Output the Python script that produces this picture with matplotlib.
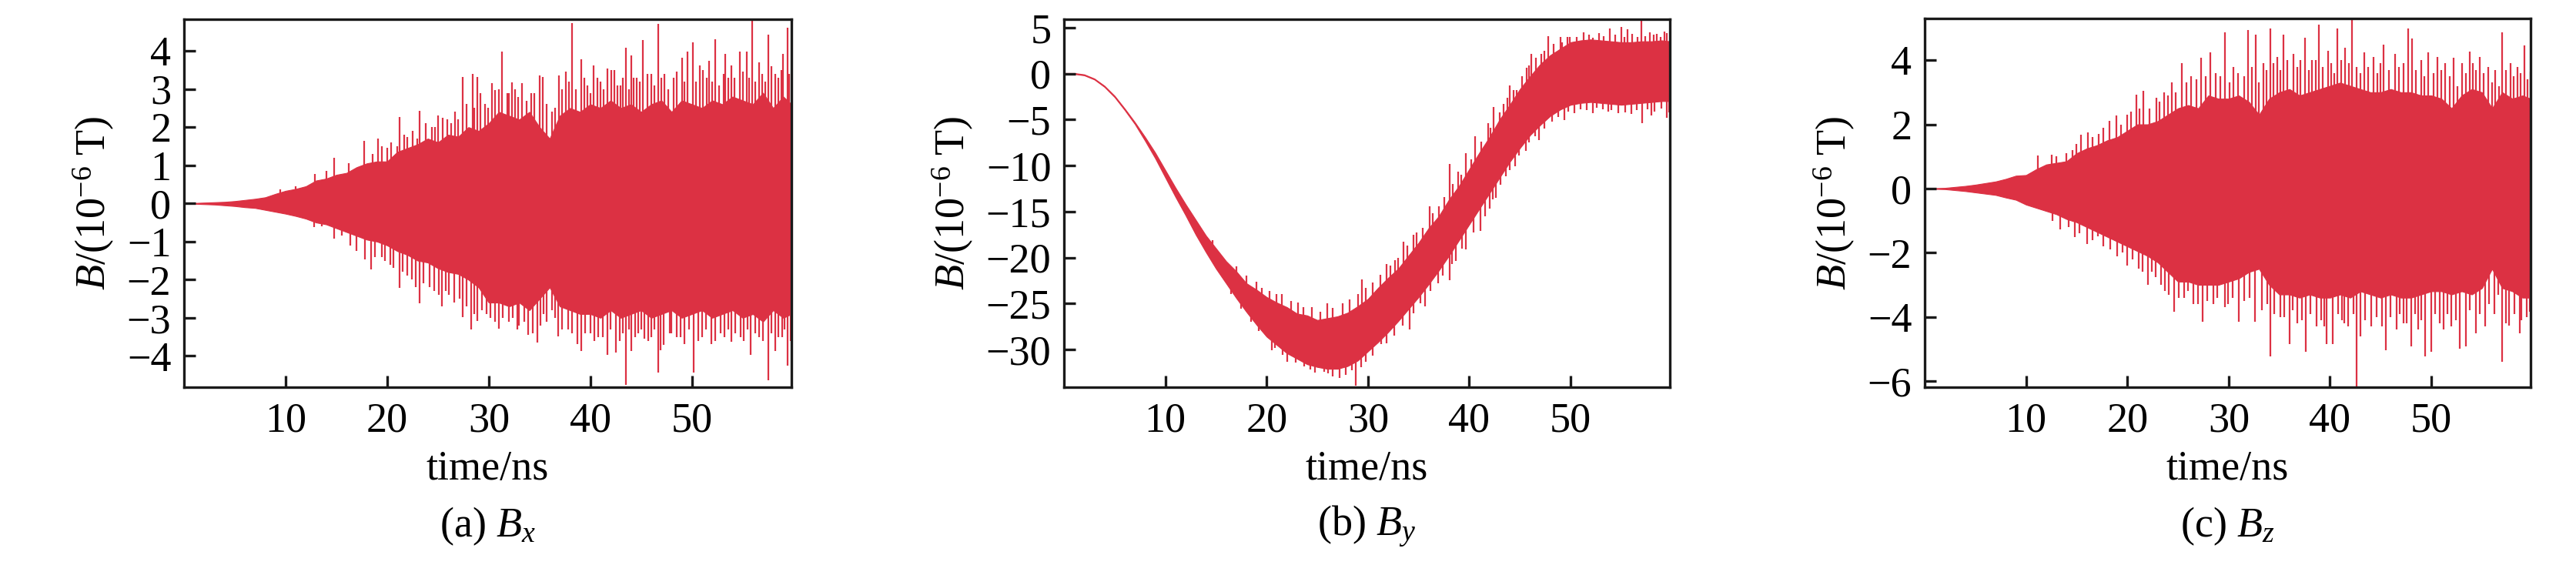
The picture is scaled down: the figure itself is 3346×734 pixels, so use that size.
import numpy as np
import matplotlib
matplotlib.use('Agg')
import matplotlib.pyplot as plt

plt.rcParams['font.family'] = ['Liberation Serif', 'DejaVu Serif']
plt.rcParams['mathtext.fontset'] = 'custom'
plt.rcParams['mathtext.rm'] = 'Liberation Serif'
plt.rcParams['mathtext.it'] = 'Liberation Serif:italic'
plt.rcParams['axes.unicode_minus'] = True

# ---------------- data ----------------
t_env = list(range(60)) + [59.8]          # time/ns of envelope samples

# (a) Bx: dense-band envelope
bx_upper = [0, 0.01, 0.02, 0.03, 0.04, 0.06, 0.09, 0.12, 0.16, 0.25,
            0.33, 0.38, 0.45, 0.6, 0.65, 0.75, 0.8, 0.95, 1.05, 1.1,
            1.1, 1.35, 1.45, 1.55, 1.7, 1.6, 1.8, 1.75, 2.0, 1.9,
            2.1, 2.4, 2.3, 2.2, 2.4, 2.0, 1.7, 2.3, 2.5, 2.4,
            2.6, 2.5, 2.7, 2.5, 2.6, 2.4, 2.6, 2.7, 2.4, 2.7,
            2.6, 2.5, 2.7, 2.6, 2.8, 2.7, 2.6, 2.9, 2.5, 2.8, 2.6]
bx_lower = [0, -0.01, -0.02, -0.03, -0.05, -0.07, -0.1, -0.12, -0.17, -0.22,
            -0.27, -0.33, -0.4, -0.5, -0.55, -0.65, -0.75, -0.85, -0.95, -1.0,
            -1.1, -1.25, -1.35, -1.5, -1.55, -1.7, -1.8, -1.85, -2.0, -2.2,
            -2.6, -2.6, -2.7, -2.6, -2.8, -2.5, -2.2, -2.7, -2.8, -2.9,
            -2.9, -3.0, -2.8, -3.0, -2.9, -2.8, -3.0, -2.9, -2.8, -3.0,
            -2.9, -2.8, -3.0, -2.9, -2.8, -3.0, -2.9, -3.1, -2.8, -3.0, -2.9]
# (a) Bx: tall spikes (time, tip)
bx_up_t = [9.5, 11.0, 12.9, 14.0, 14.8, 16.2, 17.7, 19.1, 20.0, 21.2, 22.0, 23.2,
           24.4, 25.5, 26.3, 27.4, 28.4, 28.9, 29.6, 30.3, 31.3, 32.0, 32.6, 33.3,
           34.2, 35.3, 36.2, 36.9, 37.6, 38.2, 39.1, 39.7, 40.3, 41.0, 41.7, 42.4,
           43.0, 43.5, 44.0, 44.6, 45.2, 46.0, 46.7, 47.3, 48.2, 49.0, 49.6, 50.1,
           50.8, 51.5, 52.3, 53.1, 53.9, 54.7, 55.4, 55.9, 56.6, 57.5, 58.2, 59.0,
           59.4, 59.9]
bx_up_v = [0.36, 0.45, 0.78, 0.85, 1.19, 1.05, 1.64, 1.70, 1.45, 2.26, 1.75, 2.43,
           2.0, 2.24, 2.1, 3.32, 3.39, 3.32, 2.6, 3.15, 3.98, 2.9, 3.0, 3.15,
           2.9, 3.32, 2.4, 3.35, 3.45, 4.72, 3.79, 3.1, 3.62, 3.2, 3.53, 3.49,
           3.1, 4.09, 3.89, 3.3, 4.29, 3.4, 4.70, 3.40, 3.3, 3.82, 3.98, 4.23,
           3.62, 3.3, 4.31, 3.4, 3.62, 3.98, 3.98, 4.80, 3.69, 4.43, 3.4, 3.93,
           4.60, 3.58]
bx_dn_t = [12.8, 13.6, 14.8, 15.5, 16.4, 17.0, 17.8, 18.4, 19.5, 20.3, 21.2, 22.0,
           23.2, 24.2, 25.4, 26.1, 27.4, 28.3, 28.9, 29.8, 31.0, 32.0, 33.0, 33.9,
           34.8, 35.7, 36.8, 37.8, 38.7, 39.1, 40.0, 40.8, 41.7, 42.5, 43.5, 44.0,
           44.7, 45.3, 46.0, 46.7, 46.9, 47.8, 48.5, 49.3, 50.2, 51.0, 51.9, 52.8,
           53.9, 54.8, 55.8, 56.6, 57.5, 58.2, 58.9, 59.4, 59.9]
bx_dn_v = [-0.62, -0.6, -0.92, -0.85, -1.1, -1.25, -1.47, -1.74, -1.4, -1.6, -2.22, -1.9,
           -2.61, -2.2, -2.71, -2.4, -2.98, -3.31, -3.09, -2.9, -3.28, -3.1, -3.2, -3.45,
           -3.65, -3.1, -3.48, -3.3, -3.68, -3.88, -3.4, -3.5, -3.98, -3.92, -4.76, -3.88,
           -3.4, -3.55, -3.5, -4.43, -3.85, -3.4, -3.5, -3.68, -4.43, -3.5, -3.68, -3.4,
           -3.62, -3.5, -3.98, -3.5, -4.63, -3.88, -3.5, -4.25, -3.75]
# (a) Bx: medium fringe spikes (time, tip)
bx_fu_t = [18.6, 19.5, 20.4, 21.0, 21.7, 22.5, 23.0, 23.8, 24.7, 25.0, 25.9, 26.7,
           27.0, 27.8, 28.6, 29.2, 29.9, 30.6, 31.0, 31.8, 32.3, 32.9, 33.7, 34.5,
           35.0, 35.7, 36.5, 37.2, 37.9, 38.6, 39.4, 40.0, 40.7, 41.3, 42.1, 42.7,
           43.2, 43.8, 44.3, 44.9, 45.6, 46.3, 47.0, 47.7, 48.5, 49.3, 50.4, 51.1,
           51.7, 52.0, 52.7, 53.3, 53.6, 54.2, 55.0, 55.6, 56.2, 56.9, 57.2, 57.8,
           58.5, 58.8, 59.6]
bx_fu_v = [1.3, 1.5, 1.6, 1.5, 1.8, 1.9, 1.7, 2.1, 2.0, 2.3, 2.2, 2.4,
           2.2, 2.6, 2.5, 2.9, 2.5, 2.98, 3.0, 2.9, 3.17, 2.8, 2.7, 2.9,
           3.36, 2.6, 2.5, 3.0, 3.2, 3.0, 3.3, 2.9, 3.3, 3.0, 3.5, 3.1,
           3.3, 3.0, 3.3, 3.2, 3.4, 3.1, 3.3, 3.0, 3.46, 3.2, 3.2, 3.5,
           3.74, 3.2, 3.1, 3.93, 3.3, 3.3, 3.46, 3.3, 3.2, 3.4, 3.2, 3.6,
           3.3, 3.5, 3.4]
bx_fd_t = [18.8, 19.8, 20.6, 21.5, 22.4, 22.8, 23.6, 24.6, 25.1, 25.8, 26.6, 27.1,
           27.8, 28.6, 29.3, 30.2, 30.6, 31.4, 32.4, 32.8, 33.5, 34.3, 35.1, 35.4,
           36.2, 36.5, 37.2, 38.2, 39.5, 40.4, 41.2, 42.0, 42.9, 43.2, 43.8, 44.4,
           45.0, 45.7, 46.3, 47.2, 48.0, 48.9, 49.7, 50.6, 51.4, 52.3, 53.2, 53.6,
           54.3, 55.1, 55.5, 56.2, 57.0, 57.8, 58.5, 59.1, 59.7]
bx_fd_v = [-1.4, -1.5, -1.7, -1.8, -2.0, -2.2, -2.1, -2.3, -2.4, -2.3, -2.6, -2.5,
           -2.7, -2.9, -2.8, -3.0, -3.1, -3.0, -3.0, -3.3, -3.1, -3.4, -3.2, -2.9,
           -2.8, -3.0, -3.3, -3.4, -3.4, -3.6, -3.5, -3.3, -3.6, -3.4, -3.3, -3.5,
           -3.3, -3.6, -3.3, -3.7, -3.4, -3.5, -3.3, -3.6, -3.3, -3.6, -3.5, -3.3,
           -3.4, -3.6, -3.3, -3.4, -3.6, -3.4, -3.5, -3.3, -3.6]

# (b) By: band envelope
by_upper = [0.05, 0.05, -0.1, -0.55, -1.34, -2.43, -3.82, -5.3, -6.9, -8.6,
            -10.5, -12.4, -14.2, -15.9, -17.6, -19.0, -20.4, -21.5, -22.8, -23.5,
            -24.3, -24.9, -25.4, -26.1, -26.3, -26.8, -26.6, -26.4, -26.0, -25.3,
            -24.5, -23.3, -22.2, -21.2, -19.8, -18.4, -16.8, -15.5, -13.7, -12.2,
            -10.4, -8.6, -6.9, -5.0, -3.4, -1.7, -0.3, 1.0, 2.0, 2.7,
            3.4, 3.6, 3.7, 3.6, 3.5, 3.4, 3.4, 3.5, 3.5, 3.6, 3.5]
by_lower = [-0.05, -0.05, -0.2, -0.65, -1.46, -2.57, -3.98, -5.5, -7.3, -9.2,
            -11.3, -13.4, -15.4, -17.5, -19.4, -21.2, -22.8, -24.4, -25.9, -27.3,
            -28.6, -29.5, -30.4, -31.0, -31.6, -31.9, -32.1, -32.1, -31.8, -31.2,
            -30.2, -29.2, -28.1, -26.9, -25.6, -24.3, -22.9, -21.4, -19.8, -18.1,
            -16.4, -14.7, -13.0, -11.3, -9.6, -8.1, -6.7, -5.6, -4.6, -3.9,
            -3.4, -3.2, -3.1, -3.2, -3.3, -3.4, -3.3, -3.2, -3.1, -3.0, -3.0]
# (b) By: spikes (time, base inside band, tip)
by_up_t = [14.7, 17.0, 19.0, 21.5, 23.1, 26.0, 29.4, 31.8, 32.7, 33.5, 34.5, 36.1,
           37.0, 38.1, 38.9, 39.7, 40.6, 41.9, 42.4, 43.4, 44.0, 44.7, 45.7, 46.1,
           47.1, 47.8, 49.0, 49.7, 51.3, 52.8, 53.9, 55.0, 55.6, 57.0, 57.8, 58.5,
           59.5]
by_up_base = [-18.6, -23.0, -25.4, -27.6, -28.5, -29.4, -28.2, -25.6, -24.6, -23.5, -22.2, -20.0,
              -18.6, -16.8, -15.4, -14.0, -12.4, -10.2, -9.2, -7.6, -6.5, -5.4, -3.8, -3.1,
              -2.0, -1.6, -0.6, -0.2, 0.2, 0.2, 0.1, 0.0, 0.0, 0.2, 0.2, 0.2,
              0.3]
by_up_v = [-18.1, -21.0, -22.6, -24.0, -24.9, -25.0, -22.4, -20.7, -20.3, -18.3, -17.5, -14.4,
           -14.4, -9.8, -10.7, -8.7, -6.8, -5.4, -3.6, -3.3, -1.3, -1.8, 0.6, 2.1,
           2.1, 4.1, 3.96, 3.96, 4.5, 4.4, 4.9, 5.08, 4.8, 5.8, 4.5, 4.3,
           4.4]
by_dn_t = [16.5, 18.5, 20.5, 22.0, 24.3, 25.7, 26.5, 27.2, 28.8, 29.3, 31.3, 34.1,
           35.6, 36.9, 38.1, 38.3, 39.7, 41.1, 42.0, 42.6, 43.6, 44.5, 45.6, 46.9,
           49.4, 50.4, 52.2, 53.7, 54.7, 56.0, 57.1, 58.0, 59.5]
by_dn_base = [-22.4, -24.8, -26.8, -27.9, -29.1, -29.4, -29.4, -29.3, -28.5, -28.2, -26.3, -23.0,
              -20.5, -18.6, -16.8, -16.5, -14.0, -11.7, -9.9, -8.9, -7.2, -5.7, -4.2, -2.5,
              -0.3, 0.0, 0.3, 0.2, 0.1, 0.1, 0.2, 0.2, 0.3]
by_dn_v = [-24.0, -27.0, -30.1, -31.3, -32.2, -32.4, -32.9, -33.1, -33.9, -31.9, -29.4, -27.8,
           -25.3, -22.8, -22.5, -20.7, -19.1, -17.1, -14.7, -13.5, -11.2, -10.1, -8.4, -7.2,
           -5.1, -4.3, -4.3, -4.1, -4.3, -4.4, -5.4, -4.6, -4.8]
# (b) By: medium fringe spikes (time, base, tip)
by_fu_t = [18.0, 19.5, 20.3, 21.0, 22.4, 23.6, 24.5, 25.3, 26.5, 27.5, 28.2, 29.0,
           29.8, 30.5, 31.2, 32.2, 33.0, 33.9, 34.8, 35.4, 36.4, 37.5, 38.4, 39.2,
           40.2, 41.2, 42.1, 43.0, 43.8, 44.4, 45.2, 45.9, 46.6, 47.4, 48.3, 49.2,
           49.9, 50.6, 51.8, 52.2, 53.3, 54.4, 55.3, 56.1, 56.6, 57.4, 58.2, 58.9,
           59.3]
by_fu_base = [-24.3, -25.9, -26.6, -27.2, -28.1, -28.8, -29.1, -29.3, -29.3, -29.1, -28.8, -28.3,
              -27.5, -26.8, -26.1, -25.0, -24.0, -22.8, -21.6, -20.7, -19.3, -17.6, -16.1, -14.8,
              -13.1, -11.3, -9.7, -8.2, -6.8, -5.8, -4.6, -3.6, -2.7, -1.9, -1.1, -0.5,
              0.0, 0.1, 0.3, 0.3, 0.2, 0.1, 0.0, 0.1, 0.1, 0.2, 0.2, 0.3,
              0.3]
by_fu_v = [-22.0, -23.3, -23.6, -24.0, -24.7, -25.4, -25.4, -25.9, -25.5, -25.0, -24.6, -24.0,
           -23.3, -22.7, -21.9, -20.9, -20.0, -18.7, -17.3, -16.8, -15.2, -13.4, -12.0, -11.0,
           -9.3, -7.4, -5.9, -4.2, -2.6, -1.8, -0.3, 0.9, 1.7, 2.5, 3.2, 3.4,
           4.0, 4.0, 4.2, 3.9, 4.1, 4.2, 4.0, 4.3, 4.0, 4.1, 4.2, 4.0,
           4.6]
by_fd_t = [17.5, 19.2, 20.8, 21.6, 22.9, 23.7, 24.8, 25.2, 26.1, 27.8, 28.4, 29.8,
           30.5, 31.8, 32.6, 33.4, 34.5, 35.2, 36.2, 37.4, 38.7, 39.3, 40.4, 41.6,
           42.3, 43.1, 44.0, 44.9, 45.9, 46.5, 47.4, 48.2, 48.8, 49.8, 51.0, 51.6,
           52.6, 53.2, 54.0, 55.4, 56.5, 57.6, 58.3, 59.0, 59.7]
by_fd_base = [-23.6, -25.6, -27.0, -27.6, -28.5, -28.8, -29.2, -29.3, -29.4, -29.0, -28.7, -27.6,
              -26.8, -25.4, -24.5, -23.5, -22.0, -21.1, -19.7, -17.8, -15.6, -14.6, -12.7, -10.6,
              -9.4, -8.0, -6.5, -5.1, -3.6, -2.8, -1.9, -1.1, -0.7, 0.0, 0.2, 0.3,
              0.2, 0.2, 0.1, 0.0, 0.1, 0.2, 0.2, 0.3, 0.3]
by_fd_v = [-25.6, -28.0, -29.8, -30.6, -31.4, -31.8, -32.5, -32.0, -32.6, -32.8, -32.3, -31.3,
           -30.7, -29.3, -28.5, -27.4, -26.1, -25.0, -23.6, -22.0, -20.4, -19.0, -17.3, -15.5,
           -13.7, -12.1, -10.5, -8.9, -7.5, -6.8, -6.0, -5.2, -4.7, -4.1, -3.9, -4.0,
           -3.7, -3.9, -4.0, -4.2, -4.0, -3.9, -4.1, -3.8, -4.2]

# (c) Bz: dense-band envelope
bz_upper = [0, 0.01, 0.02, 0.05, 0.08, 0.12, 0.17, 0.22, 0.3, 0.4,
            0.42, 0.6, 0.75, 0.8, 0.85, 1.1, 1.25, 1.35, 1.5, 1.6,
            1.8, 2.0, 2.0, 2.1, 2.3, 2.5, 2.6, 2.5, 2.9, 2.8,
            2.8, 2.9, 2.7, 2.3, 2.8, 3.0, 3.1, 2.9, 3.0, 3.1,
            3.2, 3.3, 3.2, 3.1, 3.0, 3.0, 3.1, 3.0, 3.0, 2.9,
            2.9, 2.8, 2.5, 2.9, 3.1, 3.0, 2.5, 3.0, 2.8, 2.9, 2.8]
bz_lower = [0, -0.01, -0.02, -0.05, -0.08, -0.12, -0.16, -0.2, -0.28, -0.35,
            -0.5, -0.6, -0.7, -0.8, -0.95, -1.05, -1.2, -1.35, -1.5, -1.65,
            -1.8, -1.95, -2.1, -2.3, -2.6, -2.9, -2.9, -3.0, -3.0, -3.0,
            -2.9, -2.8, -2.6, -2.5, -3.0, -3.3, -3.3, -3.4, -3.3, -3.4,
            -3.4, -3.3, -3.4, -3.2, -3.3, -3.4, -3.3, -3.4, -3.4, -3.3,
            -3.2, -3.2, -3.3, -3.2, -3.3, -3.1, -2.5, -3.1, -3.2, -3.4, -3.4]
# (c) Bz: tall spikes (time, tip)
bz_up_t = [11.2, 12.5, 15.4, 16.1, 17.6, 18.2, 18.9, 20.0, 20.9, 21.6, 22.9, 23.6,
           24.4, 25.4, 26.3, 27.3, 28.2, 29.6, 30.5, 31.9, 32.7, 33.4, 34.1, 34.8,
           35.4, 36.4, 37.5, 38.2, 38.9, 39.8, 40.7, 41.5, 42.2, 43.4, 44.3, 45.3,
           46.4, 47.7, 48.1, 49.0, 49.7, 50.6, 51.4, 52.2, 53.0, 53.8, 54.8, 55.6,
           56.3, 57.0, 57.8, 58.5, 59.2, 59.8]
bz_up_v = [1.02, 1.06, 1.68, 1.76, 1.9, 2.12, 2.28, 2.3, 2.92, 3.04, 2.84, 3.0,
           3.32, 3.92, 3.5, 4.08, 4.24, 4.86, 3.8, 4.94, 4.80, 3.9, 5.0, 4.1,
           4.80, 4.2, 4.70, 4.0, 5.12, 4.3, 5.0, 4.4, 5.26, 4.24, 4.1, 4.48,
           4.2, 5.0, 4.68, 4.0, 4.24, 4.1, 3.9, 4.08, 3.9, 4.28, 4.1, 3.8,
           3.7, 4.88, 3.9, 3.8, 4.46, 3.64]
bz_dn_t = [13.4, 14.8, 16.0, 17.6, 19.0, 20.0, 21.1, 22.0, 22.8, 23.7, 24.6, 25.6,
           26.5, 27.4, 28.5, 29.6, 31.0, 32.6, 33.3, 34.1, 35.1, 36.0, 36.8, 37.6,
           38.7, 39.7, 40.3, 41.4, 42.6, 43.0, 44.1, 45.5, 46.6, 47.3, 48.0, 48.7,
           49.4, 50.0, 51.2, 52.0, 52.8, 53.4, 54.4, 55.3, 56.2, 57.0, 57.7, 58.7,
           59.7]
bz_dn_v = [-1.28, -1.52, -1.72, -1.8, -2.12, -2.4, -2.5, -3.0, -2.76, -3.2, -3.84, -3.4,
           -3.6, -4.16, -3.6, -3.7, -4.16, -4.16, -3.8, -5.24, -4.0, -4.84, -4.2, -5.08,
           -4.3, -4.84, -4.84, -4.2, -6.2, -4.6, -4.3, -5.04, -4.4, -4.2, -4.92, -4.4,
           -5.24, -5.08, -4.4, -4.3, -5.0, -4.92, -4.5, -4.3, -3.9, -5.4, -4.28, -4.52,
           -3.84]
# (c) Bz: medium fringe spikes (time, tip)
bz_fu_t = [13.0, 14.0, 14.6, 15.0, 16.6, 17.2, 19.4, 20.4, 21.2, 22.2, 23.2, 24.0,
           24.8, 25.8, 26.8, 27.7, 28.7, 29.2, 30.1, 30.9, 31.5, 32.3, 33.0, 33.7,
           34.4, 35.1, 35.8, 36.8, 37.1, 37.9, 38.6, 39.3, 40.1, 40.4, 41.1, 41.9,
           42.6, 43.0, 43.8, 44.7, 45.0, 45.8, 46.8, 47.3, 48.5, 49.3, 50.2, 51.0,
           51.8, 52.6, 53.4, 54.1, 54.4, 55.2, 56.0, 56.7, 57.4, 58.1, 58.8, 59.5]
bz_fu_v = [1.0, 1.1, 1.2, 1.4, 1.6, 1.7, 2.0, 2.4, 2.5, 2.5, 2.7, 2.9,
           3.0, 3.3, 3.4, 3.5, 3.6, 3.5, 3.3, 3.6, 3.5, 3.8, 3.3, 3.7,
           3.9, 3.7, 4.0, 3.8, 4.0, 3.7, 4.0, 3.8, 3.9, 3.6, 4.0, 3.9,
           3.8, 3.6, 3.8, 3.6, 3.9, 3.7, 3.8, 3.9, 3.7, 3.5, 3.6, 3.7,
           3.5, 3.2, 3.6, 3.9, 3.7, 3.6, 3.3, 3.2, 3.7, 3.5, 3.6, 3.4]
bz_fd_t = [12.6, 14.2, 15.3, 16.6, 17.1, 18.3, 19.5, 20.5, 21.5, 22.4, 23.3, 24.1,
           25.1, 26.0, 27.0, 27.9, 28.9, 29.9, 30.4, 31.5, 32.1, 33.8, 34.5, 35.5,
           36.3, 37.2, 38.1, 39.1, 39.4, 40.8, 41.2, 41.8, 42.3, 43.5, 44.6, 45.1,
           46.0, 46.9, 47.6, 48.4, 49.0, 50.4, 50.8, 51.6, 52.4, 53.8, 54.8, 55.7,
           56.6, 57.4, 58.2, 58.9, 59.4]
bz_fd_v = [-1.0, -1.2, -1.4, -1.6, -1.5, -1.9, -2.0, -2.2, -2.6, -2.6, -3.0, -3.3,
           -3.4, -3.2, -3.6, -3.5, -3.4, -3.6, -3.4, -3.5, -3.4, -3.6, -3.9, -4.0,
           -3.8, -4.1, -3.9, -4.1, -4.3, -3.9, -4.1, -4.3, -3.9, -4.1, -4.0, -4.3,
           -4.0, -3.9, -4.2, -3.9, -4.1, -3.9, -4.2, -3.9, -4.1, -3.8, -3.9, -3.6,
           -3.3, -4.2, -3.9, -4.1, -4.0]

# axis settings
x_ticks = [10, 20, 30, 40, 50]
bx_yticks = [-4, -3, -2, -1, 0, 1, 2, 3, 4]
by_yticks = [-30, -25, -20, -15, -10, -5, 0, 5]
bz_yticks = [-6, -4, -2, 0, 2, 4]
captions = [r'(a) $B_x$', r'(b) $B_y$', r'(c) $B_z$']

# ---------------- drawing ----------------
RED = '#DC3143'
FS = 39
SPIKE_LW = 1.6
W, H = 3346, 734
fig = plt.figure(figsize=(W / 100, H / 100), dpi=100)

boxes = [(239, 25, 1028, 503), (1382, 25, 2169, 503), (2500, 24, 3287, 503)]
axes = []
for (x0, y0, x1, y1) in boxes:
    ax = fig.add_axes([x0 / W, 1 - y1 / H, (x1 - x0) / W, (y1 - y0) / H])
    axes.append(ax)

def style(ax, yticks, ylim, cap):
    ax.set_xlim(0, 59.8)
    ax.set_ylim(*ylim)
    ax.set_xticks(x_ticks)
    ax.set_yticks(yticks)
    for s in ax.spines.values():
        s.set_linewidth(2.4)
        s.set_color('#1a1a1a')
        s.set_zorder(5)
    ax.tick_params(direction='in', length=11, width=2.4, labelsize=FS,
                   top=False, right=False, color='#1a1a1a')
    ax.tick_params(axis='x', pad=14)
    ax.tick_params(axis='y', pad=12)
    ax.set_xlabel('time/ns', fontsize=FS, labelpad=8)
    ax.set_ylabel(r'$B$/(10$^{-6}$ T)', fontsize=FS, labelpad=10)
    pos = ax.get_position()
    fig.text(pos.x0 + pos.width / 2, 1 - 684 / H, cap, ha='center', va='center',
             fontsize=FS)

# (a)
ax = axes[0]
ax.fill_between(t_env, bx_lower, bx_upper, color=RED, lw=0.8)
ax.vlines(bx_fu_t, 0, bx_fu_v, color=RED, lw=SPIKE_LW)
ax.vlines(bx_fd_t, 0, bx_fd_v, color=RED, lw=SPIKE_LW)
ax.vlines(bx_up_t, 0, bx_up_v, color=RED, lw=SPIKE_LW)
ax.vlines(bx_dn_t, 0, bx_dn_v, color=RED, lw=SPIKE_LW)
style(ax, bx_yticks, (-4.82, 4.83), captions[0])

# (b)
ax = axes[1]
ax.fill_between(t_env, by_lower, by_upper, color=RED, lw=0.8)
ax.vlines(by_fu_t, by_fu_base, by_fu_v, color=RED, lw=SPIKE_LW)
ax.vlines(by_fd_t, by_fd_base, by_fd_v, color=RED, lw=SPIKE_LW)
ax.vlines(by_up_t, by_up_base, by_up_v, color=RED, lw=SPIKE_LW)
ax.vlines(by_dn_t, by_dn_base, by_dn_v, color=RED, lw=SPIKE_LW)
style(ax, by_yticks, (-34.1, 5.9), captions[1])

# (c)
ax = axes[2]
ax.fill_between(t_env, bz_lower, bz_upper, color=RED, lw=0.8)
ax.vlines(bz_fu_t, 0, bz_fu_v, color=RED, lw=SPIKE_LW)
ax.vlines(bz_fd_t, 0, bz_fd_v, color=RED, lw=SPIKE_LW)
ax.vlines(bz_up_t, 0, bz_up_v, color=RED, lw=SPIKE_LW)
ax.vlines(bz_dn_t, 0, bz_dn_v, color=RED, lw=SPIKE_LW)
style(ax, bz_yticks, (-6.19, 5.3), captions[2])

fig.savefig('out.png', dpi=100)
